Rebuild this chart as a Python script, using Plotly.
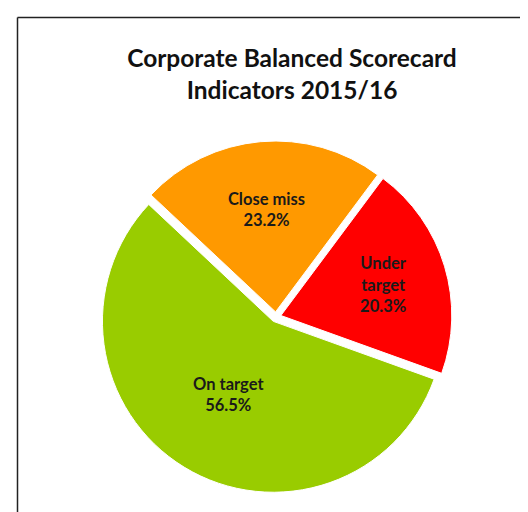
import plotly.graph_objects as go

# Data
categories = ["Under target", "On target", "Close miss"]
display_names = ["Under<br>target", "On target", "Close miss"]
values = [20.3, 56.5, 23.2]
colors = ["#FF0000", "#99CC00", "#FF9900"]
title_text = "Corporate Balanced Scorecard<br>Indicators 2015/16"

W, H = 528, 512

fig = go.Figure(
    go.Pie(
        labels=categories,
        values=values,
        text=display_names,
        sort=False,
        direction="clockwise",
        rotation=36.7,
        pull=[0.03, 0.03, 0.03],
        marker=dict(colors=colors, line=dict(color="white", width=1)),
        textinfo="text+percent",
        texttemplate="%{text}<br>%{percent:.1%}",
        textposition="inside",
        insidetextorientation="horizontal",
        textfont=dict(family="Lato", size=16.5, color="#1a1a1a", weight="bold"),
        showlegend=False,
        hoverinfo="label+percent",
        domain=dict(x=[91 / W, 445 / W], y=[1 - 485 / H, 1 - 133 / H]),
    )
)

fig.update_layout(
    width=W,
    height=H,
    margin=dict(l=0, r=0, t=0, b=0),
    paper_bgcolor="white",
    plot_bgcolor="white",
    title=dict(
        text=title_text,
        x=284 / W,
        xanchor="center",
        y=1 - 59 / H,
        yanchor="middle",
        font=dict(family="Lato", size=24.5, color="#111111", weight="bold"),
    ),
    shapes=[
        dict(type="line", xref="paper", yref="paper",
             x0=9.5 / W, x1=1.0, y0=1 - 9.5 / H, y1=1 - 9.5 / H,
             line=dict(color="#222222", width=1.5)),
        dict(type="line", xref="paper", yref="paper",
             x0=9.5 / W, x1=9.5 / W, y0=0, y1=1 - 9.5 / H,
             line=dict(color="#222222", width=1.5)),
    ],
)

fig.write_html("out.html")
